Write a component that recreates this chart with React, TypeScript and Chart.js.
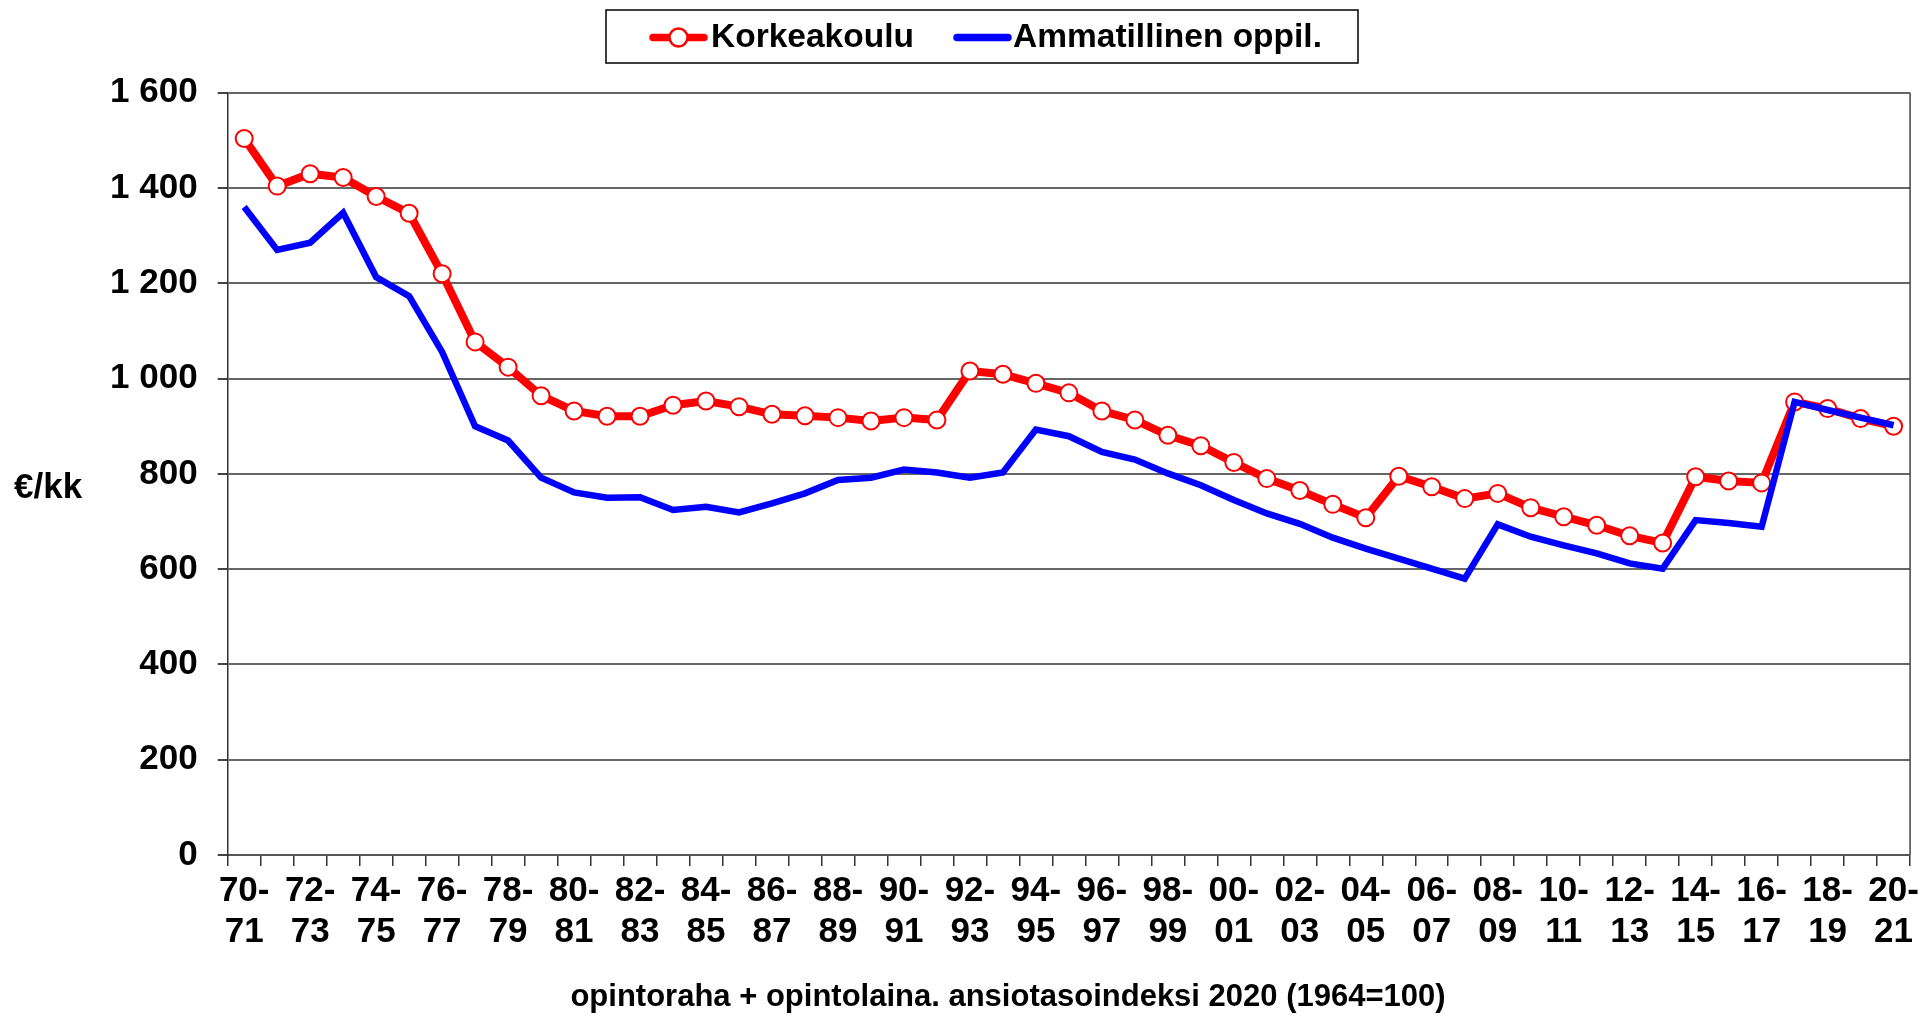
import React, { useEffect, useRef } from "react";
import { Chart, registerables } from "chart.js";

Chart.register(...registerables);

const categories: string[] = [
  "70-71", "71-72", "72-73", "73-74", "74-75", "75-76", "76-77", "77-78", "78-79", "79-80",
  "80-81", "81-82", "82-83", "83-84", "84-85", "85-86", "86-87", "87-88", "88-89", "89-90",
  "90-91", "91-92", "92-93", "93-94", "94-95", "95-96", "96-97", "97-98", "98-99", "99-00",
  "00-01", "01-02", "02-03", "03-04", "04-05", "05-06", "06-07", "07-08", "08-09", "09-10",
  "10-11", "11-12", "12-13", "13-14", "14-15", "15-16", "16-17", "17-18", "18-19", "19-20",
  "20-21",
];

const korkeakoulu: number[] = [
  1504, 1404, 1430, 1422, 1382, 1347, 1220, 1077, 1024, 964,
  932, 921, 921, 944, 953, 941, 925, 922, 918, 911,
  918, 913, 1016, 1009, 990, 970, 932, 913, 881, 859,
  824, 790, 765, 736, 708, 795, 773, 748, 759, 729,
  710, 692, 670, 655, 794, 785, 781, 951, 937, 916,
  900,
];

const ammatillinen: number[] = [
  1360, 1270, 1285, 1348, 1213, 1173, 1056, 900, 870, 792,
  761, 750, 751, 724, 731, 719, 738, 759, 787, 792,
  809, 803, 792, 803, 893, 879, 846, 830, 801, 776,
  745, 717, 695, 666, 643, 622, 601, 580, 694, 668,
  650, 633, 612, 601, 703, 697, 689, 951, 934, 918,
  902,
];

const seriesNames: string[] = ["Korkeakoulu", "Ammatillinen oppil."];
const yAxisTitle = "€/kk";
const xAxisTitle = "opintoraha + opintolaina. ansiotasoindeksi 2020 (1964=100)";
const yMin = 0;
const yMax = 1600;
const yStep = 200;

const FONT = "'Liberation Sans', Arial, Helvetica, sans-serif";

function formatThousands(v: number): string {
  if (v >= 1000) {
    const th = Math.floor(v / 1000);
    const rest = String(v % 1000).padStart(3, "0");
    return `${th} ${rest}`;
  }
  return String(v);
}

const overlayPlugin = {
  id: "overlay",
  afterDraw(chart: any) {
    const ctx: CanvasRenderingContext2D = chart.ctx;
    const area = chart.chartArea;
    ctx.save();

    // right border of plot area
    ctx.strokeStyle = "#444";
    ctx.lineWidth = 1.5;
    ctx.beginPath();
    ctx.moveTo(area.right, area.top);
    ctx.lineTo(area.right, area.bottom);
    ctx.stroke();

    // legend box
    const lx = 606, ly = 10, lw = 752, lh = 53;
    ctx.strokeStyle = "#000";
    ctx.lineWidth = 1.5;
    ctx.fillStyle = "#fff";
    ctx.fillRect(lx, ly, lw, lh);
    ctx.strokeRect(lx, ly, lw, lh);
    const cy = ly + lh / 2 + 1;

    // red item
    ctx.lineCap = "round";
    ctx.strokeStyle = "#ff0000";
    ctx.lineWidth = 7.5;
    ctx.beginPath();
    ctx.moveTo(653, cy);
    ctx.lineTo(704, cy);
    ctx.stroke();
    ctx.beginPath();
    ctx.arc(678.5, cy, 9, 0, Math.PI * 2);
    ctx.fillStyle = "#fff";
    ctx.fill();
    ctx.lineWidth = 2.5;
    ctx.stroke();

    ctx.fillStyle = "#000";
    ctx.font = `bold 33.5px ${FONT}`;
    ctx.textBaseline = "middle";
    ctx.textAlign = "left";
    ctx.fillText(seriesNames[0], 711, cy);

    // blue item
    ctx.strokeStyle = "#0000ff";
    ctx.lineWidth = 7.5;
    ctx.beginPath();
    ctx.moveTo(957, cy);
    ctx.lineTo(1008, cy);
    ctx.stroke();
    ctx.fillStyle = "#000";
    ctx.fillText(seriesNames[1], 1013, cy);

    // y axis title (horizontal)
    ctx.font = `bold 35px ${FONT}`;
    ctx.textAlign = "left";
    ctx.fillText(yAxisTitle, 14, 488);

    // x axis title
    ctx.font = `bold 31px ${FONT}`;
    ctx.textAlign = "center";
    ctx.fillText(xAxisTitle, 1008, 997);

    ctx.restore();
  },
};

export default function App() {
  const canvasRef = useRef<HTMLCanvasElement | null>(null);

  useEffect(() => {
    const canvas = canvasRef.current;
    if (!canvas) return;
    const chart = new Chart(canvas, {
      type: "line",
      data: {
        labels: categories,
        datasets: [
          {
            label: seriesNames[0],
            data: korkeakoulu,
            borderColor: "#ff0000",
            backgroundColor: "#ff0000",
            borderWidth: 8,
            pointRadius: 8.5,
            pointBorderWidth: 2,
            pointBackgroundColor: "#ffffff",
            pointBorderColor: "#ff0000",
            pointHoverRadius: 8.5,
            tension: 0,
            order: 2,
          },
          {
            label: seriesNames[1],
            data: ammatillinen,
            borderColor: "#0000ff",
            backgroundColor: "#0000ff",
            borderWidth: 6.5,
            pointRadius: 0,
            pointHoverRadius: 0,
            tension: 0,
            order: 1,
          },
        ],
      },
      options: {
        responsive: false,
        animation: false,
        devicePixelRatio: 1,
        layout: { padding: { left: 0, right: 13.3, top: 92.7, bottom: 0 } },
        plugins: {
          legend: { display: false },
          tooltip: { enabled: false },
          title: { display: false },
        },
        scales: {
          x: {
            type: "category",
            offset: true,
            grid: {
              display: true,
              drawOnChartArea: false,
              drawTicks: true,
              tickLength: 11,
              offset: true,
              color: "#333",
              lineWidth: 1.5,
            },
            border: { display: true, color: "#555", width: 2 },
            ticks: {
              autoSkip: false,
              maxRotation: 0,
              minRotation: 0,
              padding: 5,
              color: "#000",
              font: { family: FONT, size: 35, weight: "bold", lineHeight: 1.17 },
              callback: (_v: any, i: number) => {
                if (i % 2 !== 0) return "";
                const parts = categories[i].split("-");
                return [parts[0] + "-", parts[1]];
              },
            },
            afterFit: (s: any) => {
              s.height = 1016 - 855;
            },
          },
          y: {
            min: yMin,
            max: yMax,
            ticks: {
              stepSize: yStep,
              padding: 20,
              color: "#000",
              font: { family: FONT, size: 35, weight: "bold" },
              callback: (v: any) => formatThousands(Number(v)),
            },
            grid: {
              color: "#666",
              lineWidth: 2,
              tickLength: 10,
              drawTicks: true,
              tickColor: "#444",
            },
            border: { display: true, color: "#333", width: 1.5 },
            afterFit: (s: any) => {
              s.width = 227.7;
            },
          },
        },
      },
      plugins: [overlayPlugin],
    } as any);
    return () => {
      chart.destroy();
    };
  }, []);

  return (
    <div style={{ position: "fixed", left: 0, top: 0, width: 1924, height: 1016, background: "#fff" }}>
      <canvas ref={canvasRef} width={1924} height={1016} style={{ display: "block" }} />
    </div>
  );
}
